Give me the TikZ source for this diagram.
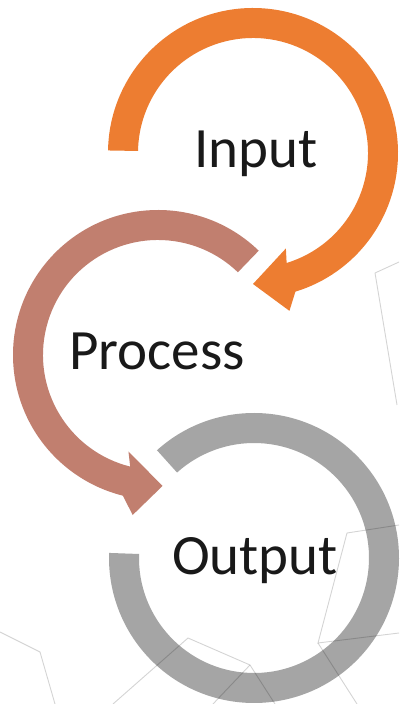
\documentclass[tikz,border=0pt]{standalone}
\usepackage{fontspec}
\setmainfont{Carlito}
\usetikzlibrary{calc}
\definecolor{inorange}{HTML}{ED7D31}
\definecolor{procrose}{HTML}{C17F6F}
\definecolor{outgray}{HTML}{A5A5A5}
\tikzset{
  label/.style={font=\fontsize{57}{60}\selectfont, text=black!90, inner sep=0pt, anchor=base},
  netline/.style={draw=black, draw opacity=0.17, line width=0.9pt},
}
\begin{document}
\begin{tikzpicture}[x=1pt,y=1pt]
\useasboundingbox (0,0) rectangle (399,704);
\fill[white] (0,0) rectangle (399,704);
% centres
\coordinate (c1) at (253,551);
\coordinate (c2) at (158,349);
\coordinate (c3) at (254,146);
% Input arrow
\fill[inorange] ($(c1)+(179:145)$) arc[start angle=179, end angle=-73, radius=145]
  -- ($(c1)+(-77:162)$) -- ($(c1)+(-90:131)$) -- ($(c1)+(-71:101)$)
  -- ($(c1)+(-73:115)$) arc[start angle=-73, end angle=179, radius=115] -- cycle;
% Process arrow
\fill[procrose] ($(c2)+(46:145)$) arc[start angle=46, end angle=256, radius=145]
  -- ($(c2)+(261:162)$) -- ($(c2)+(272:131)$) -- ($(c2)+(253:101)$)
  -- ($(c2)+(256:115)$) arc[start angle=256, end angle=46, radius=115] -- cycle;
% Output ring
\fill[outgray] ($(c3)+(132:145)$) arc[start angle=132, end angle=-182, radius=145]
  -- ($(c3)+(-182:115)$) arc[start angle=-182, end angle=132, radius=115] -- cycle;
% faint background network, overlaid
\draw[netline] (399,442) -- (375,431) -- (397,299);
\draw[netline] (399,179) -- (347,171) -- (318,61) -- (399,71);
\draw[netline] (318,61) -- (357,0);
\draw[netline] (113,0) -- (188,66) -- (250,39) -- (275,0);
\draw[netline] (250,39) -- (213,0);
\draw[netline] (0,72) -- (40,52) -- (55,0);
% labels
\node[label] (input) at (256,536) {Input};
\node[label] (process) at (157,334) {Process};
\node[label] (output) at (255,129) {Output};
\end{tikzpicture}
\end{document}
